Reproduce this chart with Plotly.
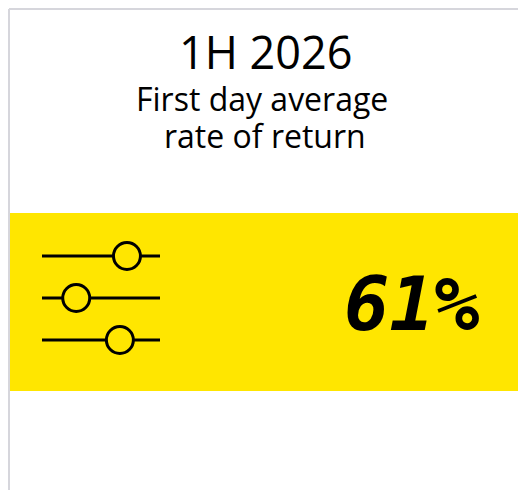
import plotly.graph_objects as go

# --- data ---
period = "1H 2026"
metric_lines = ["First day average", "rate of return"]
value_pct = [61]
slider_knobs = [0.72, 0.29, 0.66]   # relative knob positions of the slider icon

# page is drawn inside the default 8px body margin
OFF = 8
W, H = 526, 498
FW, FH = W - 2 * OFF, H - 2 * OFF
YELLOW = "#FFE600"

fig = go.Figure()
shapes = []
# card border (left + top)
shapes.append(dict(type="line", x0=9, x1=9, y0=9, y1=H, line=dict(color="#d6d6dc", width=2)))
shapes.append(dict(type="line", x0=9, x1=W, y0=9, y1=9, line=dict(color="#d6d6dc", width=2)))
# yellow band
shapes.append(dict(type="rect", x0=10, x1=W, y0=213, y1=391, fillcolor=YELLOW, line=dict(width=0), layer="below"))

# slider icon
lx0, lx1 = 42, 160
ys = [256, 298, 340]
r = 13.5
for y, k in zip(ys, slider_knobs):
    shapes.append(dict(type="line", x0=lx0, x1=lx1, y0=y, y1=y, line=dict(color="black", width=3)))
    cx = lx0 + k * (lx1 - lx0)
    shapes.append(dict(type="circle", x0=cx - r, x1=cx + r, y0=y - r, y1=y + r,
                       fillcolor=YELLOW, line=dict(color="black", width=3)))

annotations = [
    dict(x=266, y=51.5, text=period, showarrow=False, xanchor="center", yanchor="middle",
         font=dict(family="Open Sans", size=45, color="black")),
    dict(x=262, y=98, text=metric_lines[0], showarrow=False, xanchor="center", yanchor="middle",
         font=dict(family="Open Sans", size=32, color="black")),
    dict(x=265, y=135, text=metric_lines[1], showarrow=False, xanchor="center", yanchor="middle",
         font=dict(family="Open Sans", size=32, color="black")),
    dict(x=481, y=304, text=f"<b><i>{value_pct[0]}%</i></b>", showarrow=False, xanchor="right", yanchor="middle",
         font=dict(family="DejaVu Sans Mono", size=75, color="black")),
]

fig.update_layout(
    width=FW, height=FH, margin=dict(l=0, r=0, t=0, b=0),
    paper_bgcolor="white", plot_bgcolor="white",
    xaxis=dict(range=[OFF, OFF + FW], visible=False, fixedrange=True),
    yaxis=dict(range=[OFF + FH, OFF], visible=False, fixedrange=True),
    shapes=shapes, annotations=annotations, showlegend=False,
)
fig.write_html("out.html")
